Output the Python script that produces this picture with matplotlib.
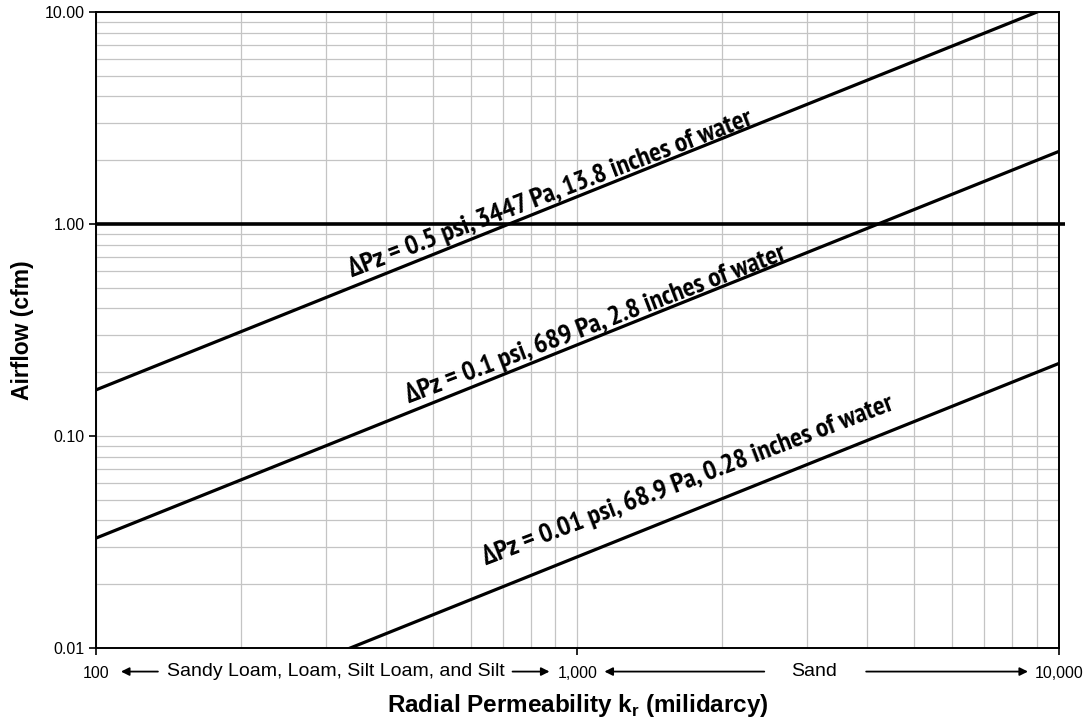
import numpy as np
import matplotlib
matplotlib.use("Agg")
import matplotlib.pyplot as plt
from matplotlib.ticker import FixedLocator, FixedFormatter, NullFormatter, LogLocator

plt.rcParams['font.family'] = ['Liberation Sans', 'DejaVu Sans']
NARROW = ['PT Sans Narrow', 'Open Sans Condensed', 'Liberation Sans', 'DejaVu Sans']

# Radial permeability range (millidarcy) and airflow (cfm) at the two ends
permeability = [100, 10000]
airflow_05psi = [0.165, 11.0]
airflow_01psi = [0.033, 2.2]
airflow_001psi = [0.0033, 0.22]
airflow_target = 1.0

curve_labels = [
    "ΔPz = 0.5 psi, 3447 Pa, 13.8 inches of water",
    "ΔPz = 0.1 psi, 689 Pa, 2.8 inches of water",
    "ΔPz = 0.01 psi, 68.9 Pa, 0.28 inches of water",
]
x_ticks = [100, 1000, 10000]
x_tick_labels = ["100", "1,000", "10,000"]
y_ticks = [0.01, 0.1, 1, 10]
y_tick_labels = ["0.01", "0.10", "1.00", "10.00"]

fig = plt.figure(figsize=(10.87, 7.21), dpi=100)
ax = fig.add_axes([0.0883, 0.1012, 0.9742 - 0.0883, 0.9834 - 0.1012])
ax.set_xscale('log')
ax.set_yscale('log')
ax.set_xlim(100, 10000)
ax.set_ylim(0.01, 10)

ax.xaxis.set_major_locator(FixedLocator(x_ticks))
ax.xaxis.set_major_formatter(FixedFormatter(x_tick_labels))
ax.yaxis.set_major_locator(FixedLocator(y_ticks))
ax.yaxis.set_major_formatter(FixedFormatter(y_tick_labels))
ax.xaxis.set_minor_locator(LogLocator(base=10, subs=np.arange(2, 10)))
ax.yaxis.set_minor_locator(LogLocator(base=10, subs=np.arange(2, 10)))
ax.xaxis.set_minor_formatter(NullFormatter())
ax.yaxis.set_minor_formatter(NullFormatter())

ax.grid(True, which='both', color='#c4c4c4', linewidth=0.9)
ax.set_axisbelow(True)
ax.tick_params(which='minor', length=0)
ax.tick_params(which='major', length=5, width=1.2, direction='out', labelsize=11.5)
ax.tick_params(axis='x', pad=8)
ax.tick_params(axis='y', pad=3)
for s in ax.spines.values():
    s.set_linewidth(1.4)
    s.set_color('black')

series = [airflow_05psi, airflow_01psi, airflow_001psi]
for ys in series:
    ax.plot(permeability, ys, color='black', linewidth=2.3, solid_capstyle='butt')

# Reference airflow of 1 cfm, running slightly past the right edge
ax.plot([100, 10300], [airflow_target, airflow_target], color='black',
        linewidth=2.6, clip_on=False, solid_capstyle='butt')

# Curve labels, set along each line
label_anchor = [(340, 0.562), (448, 0.143), (645, 0.0246)]
fig.canvas.draw()
for ys, text, (lx, ly) in zip(series, curve_labels, label_anchor):
    p0 = ax.transData.transform((permeability[0], ys[0]))
    p1 = ax.transData.transform((permeability[1], ys[1]))
    ang = np.degrees(np.arctan2(p1[1] - p0[1], p1[0] - p0[0])) - 1.0
    ax.text(lx, ly, text, rotation=ang, rotation_mode='anchor',
            ha='left', va='baseline', fontsize=20, fontweight='bold',
            family=NARROW, color='black')

# Soil class ranges under the axis
yr = -0.037
tr = ax.get_xaxis_transform()


def px_to_k(px):
    return 10 ** (2 + (px - 96) / 482.0)


def arrow(x_tail, x_head):
    ax.annotate('', xy=(px_to_k(x_head), yr), xytext=(px_to_k(x_tail), yr),
                xycoords=tr, textcoords=tr, annotation_clip=False,
                arrowprops=dict(arrowstyle='-|>', color='black', lw=1.3,
                                mutation_scale=12, shrinkA=0, shrinkB=0))


arrow(158, 121)
arrow(513, 550)
arrow(765, 605)
arrow(867, 1029)
ax.text(px_to_k(336), yr, "Sandy Loam, Loam, Silt Loam, and Silt", transform=tr,
        ha='center', va='center', fontsize=14)
ax.text(px_to_k(815), yr, "Sand", transform=tr, ha='center', va='center', fontsize=14)

ax.set_xlabel("Radial Permeability k$_\\mathregular{r}$ (milidarcy)", fontsize=17.5,
              fontweight='bold', va='center')
ax.xaxis.set_label_coords(0.5, -0.0896)
ax.set_ylabel("Airflow (cfm)", fontsize=16.5, fontweight='bold', va='center')
ax.yaxis.set_label_coords(-0.0768, 0.5)

fig.savefig("out.png", dpi=100)
